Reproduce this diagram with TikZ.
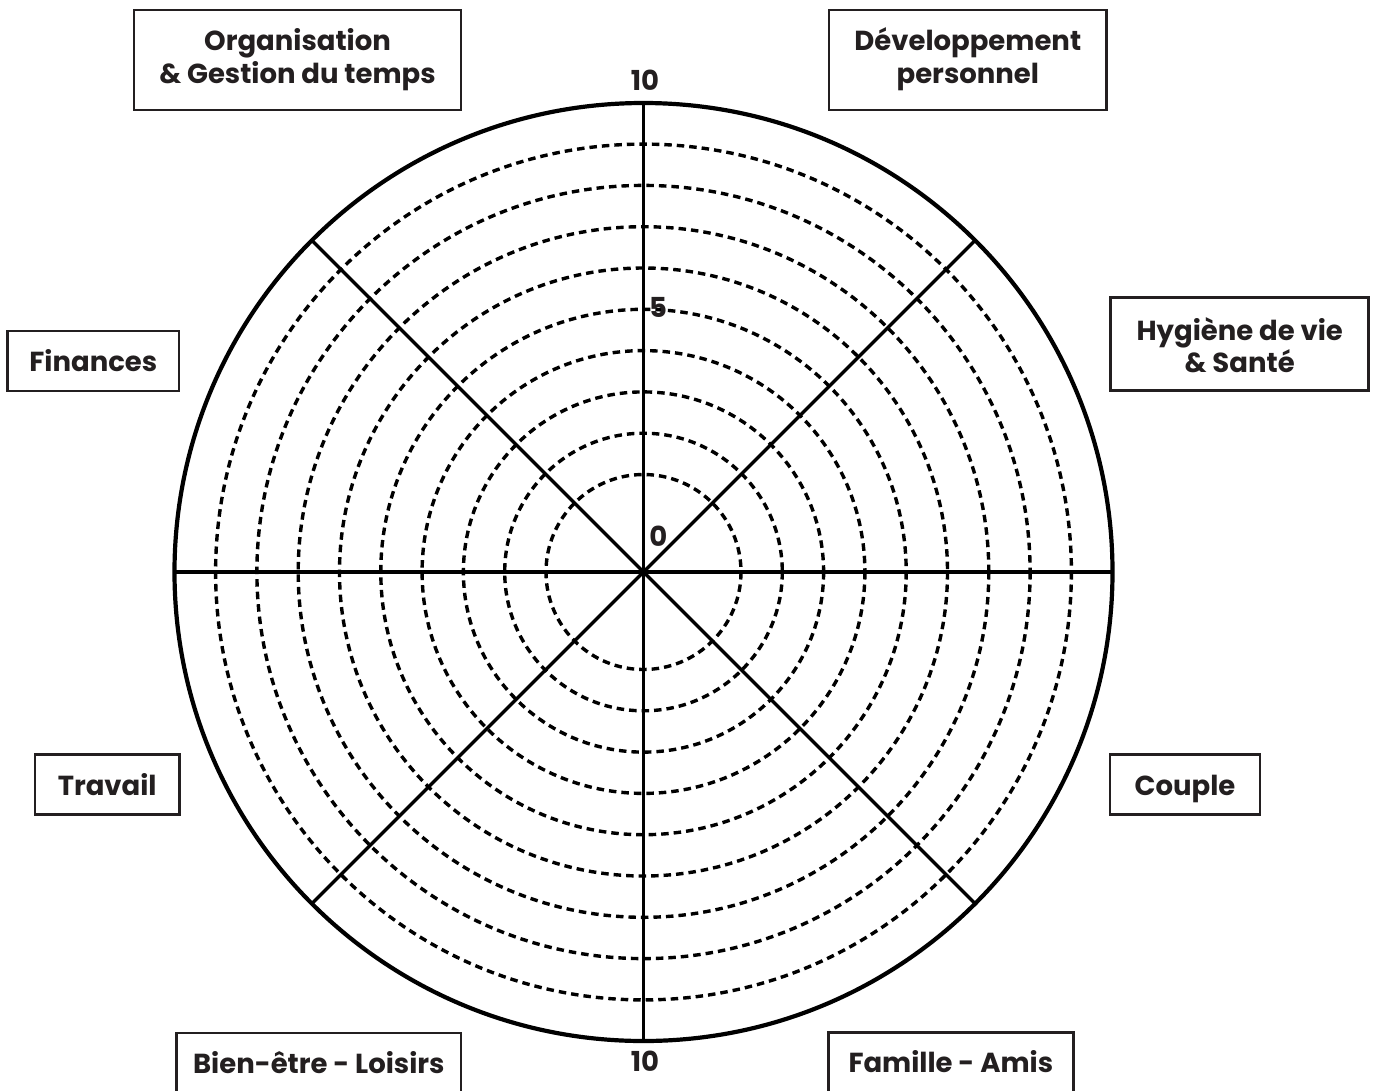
\documentclass[tikz,border=0pt]{standalone}
\usepackage{fontspec}
\setmainfont{Poppins}
\usetikzlibrary{calc}
\definecolor{ink}{HTML}{231F20}
\begin{document}
\begin{tikzpicture}[x=1pt,y=-1pt,
  box/.style={draw=ink, line width=2.6pt, inner sep=0pt},
  txt/.style={font=\fontsize{27.5}{33}\selectfont\bfseries, text=ink, inner sep=0pt, anchor=base},
  ring/.style={draw=black, line width=3.4pt, dash pattern=on 7.5pt off 5pt},
  spoke/.style={draw=black, line width=3.3pt},
  rim/.style={draw=black, line width=4.2pt}]
\useasboundingbox (0,0) rectangle (1378,1090);
\clip (0,0) rectangle (1378,1090);
\fill[white] (0,0) rectangle (1378,1090);
\coordinate (c) at (643.5,572);
% dashed rings
\foreach \k in {0,...,8} {
  \draw[ring] (c) circle[radius={97.5+41.3*\k}];
}
% spokes
\foreach \a in {0,45,90,135} {
  \draw[spoke] ($(c)+(\a:469)$) -- ($(c)+(\a+180:469)$);
}
% outer rim
\draw[rim] (c) circle[radius=469];
% scale labels
\node[txt] (ten1) at (645,90.7) {10};
\node[txt] (five) at (658,317.5) {5};
\node[txt] (zero) at (658.3,546) {0};
\node[txt] (ten2) at (645,1071.7) {10};
% boxes
\node[box, minimum width=327, minimum height=100] (org) at (297.5,60) {};
\node[txt] (orgA) at (297.5,50) {Organisation};
\node[txt] (orgB) at (297.5,83.3) {\& Gestion du temps};
\node[box, minimum width=277.5, minimum height=100] (dev) at (967.8,60) {};
\node[txt] (devA) at (967.8,50) {Développement};
\node[txt] (devB) at (967.8,83.3) {personnel};
\node[box, minimum width=171.5, minimum height=60] (fin) at (93.3,361) {};
\node[txt] (finA) at (93.3,371.7) {Finances};
\node[box, minimum width=258, minimum height=93.4] (hyg) at (1239.7,344) {};
\node[txt] (hygA) at (1239.7,340) {Hygiène de vie};
\node[txt] (hygB) at (1239.7,372.7) {\& Santé};
\node[box, minimum width=144.3, minimum height=60] (trav) at (107.2,784.3) {};
\node[txt] (travA) at (107.2,795) {Travail};
\node[box, minimum width=150, minimum height=60] (coup) at (1185,784.3) {};
\node[txt] (coupA) at (1185,795) {Couple};
\node[box, minimum width=284.3, minimum height=60] (bien) at (318.8,1063) {};
\node[txt] (bienA) at (318.8,1073) {Bien-être - Loisirs};
\node[box, minimum width=245, minimum height=60] (fam) at (950.8,1062.5) {};
\node[txt] (famA) at (950.8,1072.7) {Famille - Amis};
\end{tikzpicture}
\end{document}
